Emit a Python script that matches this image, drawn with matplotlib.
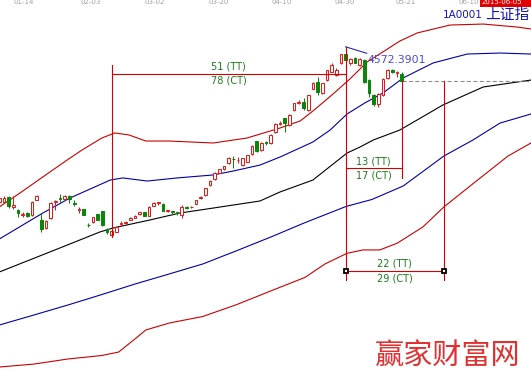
import matplotlib
matplotlib.use("Agg")
import matplotlib.pyplot as plt
from matplotlib.patches import Rectangle
from matplotlib.transforms import blended_transform_factory

# ---- daily bars, Shanghai Composite (bar 0 = 2015-01-06 ... bar 86 = 2015-05-15) ----
opens = [3322, 3317, 3363, 3280, 3255, 3215, 3229, 3215, 3336, 3175,
         3108, 3188, 3317, 3352, 3342, 3371, 3312, 3255, 3263, 3137,
         3161, 3221, 3247, 3102, 3050, 3080, 3146, 3148, 3175, 3193,
         3221, 3237, 3207, 3288, 3309, 3304, 3247, 3245, 3237, 3215,
         3280, 3276, 3304, 3350, 3376, 3457, 3503, 3556, 3584, 3632,
         3669, 3656, 3618, 3645, 3707, 3812, 3740, 3804, 3794, 3882,
         3949, 3995, 3941, 4062, 4116, 4129, 4062, 4232, 4288, 4197,
         4304, 4371, 4345, 4438, 4514, 4438, 4480, 4425, 4466, 4304,
         4183, 4111, 4183, 4320, 4389, 4357, 4353]
highs = [3364, 3368, 3368, 3372, 3263, 3237, 3239, 3328, 3376, 3229,
         3175, 3320, 3336, 3382, 3376, 3376, 3336, 3282, 3267, 3148,
         3201, 3227, 3251, 3112, 3094, 3126, 3167, 3167, 3199, 3215,
         3243, 3242, 3288, 3316, 3322, 3308, 3259, 3247, 3242, 3296,
         3288, 3288, 3340, 3368, 3435, 3497, 3562, 3590, 3614, 3679,
         3691, 3681, 3677, 3703, 3776, 3816, 3804, 3812, 3865, 3955,
         3971, 4000, 4026, 4121, 4141, 4157, 4187, 4291, 4331, 4283,
         4389, 4442, 4401, 4518, 4572.3901, 4482, 4486, 4478, 4470, 4312,
         4191, 4200, 4320, 4393, 4397, 4381, 4365]
lows = [3312, 3308, 3269, 3263, 3201, 3196, 3199, 3207, 3332, 3080,
        3102, 3183, 3255, 3322, 3336, 3309, 3290, 3229, 3211, 3121,
        3148, 3171, 3130, 3059, 3041, 3078, 3126, 3142, 3171, 3191,
        3217, 3207, 3203, 3284, 3296, 3247, 3243, 3215, 3215, 3191,
        3263, 3271, 3300, 3344, 3372, 3453, 3497, 3554, 3578, 3627,
        3592, 3632, 3610, 3643, 3703, 3727, 3735, 3780, 3790, 3879,
        3945, 3887, 3937, 4058, 4111, 4062, 4058, 4228, 4183, 4191,
        4300, 4369, 4337, 4434, 4296, 4429, 4438, 4417, 4284, 4167,
        4095, 4090, 4175, 4316, 4357, 4331, 4296]
closes = [3355, 3355, 3290, 3292, 3229, 3223, 3209, 3317, 3371, 3102,
          3167, 3309, 3330, 3347, 3368, 3344, 3306, 3261, 3215, 3132,
          3196, 3175, 3134, 3075, 3086, 3121, 3153, 3161, 3193, 3209,
          3237, 3209, 3282, 3309, 3316, 3250, 3255, 3239, 3231, 3282,
          3274, 3282, 3336, 3363, 3430, 3489, 3556, 3584, 3610, 3673,
          3664, 3661, 3673, 3699, 3772, 3731, 3798, 3798, 3861, 3949,
          3960, 3955, 4022, 4116, 4129, 4076, 4183, 4284, 4208, 4278,
          4385, 4425, 4385, 4514, 4462, 4470, 4442, 4470, 4288, 4199,
          4111, 4195, 4316, 4389, 4369, 4369, 4300]

# ---- channel lines (knots: bar index, level) ----
outer_up_x = [0, 4.4, 9.3, 14.5, 17.7, 21.9, 24.7, 27.7, 31.3, 36.3, 45.7, 52.9,
              60, 64.3, 67, 71.3, 74.9, 78.6, 85.6, 89.3, 96.3, 103.4, 110.6, 113.6]
outer_up_y = [3280, 3392, 3522, 3659, 3740, 3836, 3877, 3861, 3812, 3812, 3796, 3836,
              3917, 3974, 4054, 4191, 4312, 4450, 4619, 4684, 4748, 4756, 4732, 4716]

inner_up_x = [0, 9.3, 15.1, 23.7, 26.4, 31.6, 38, 45.7, 50, 55.7, 60, 67,
              70.7, 74.3, 78.1, 82, 86.3, 92.7, 100, 107, 113.6]
inner_up_y = [3021, 3231, 3352, 3497, 3514, 3489, 3514, 3538, 3570, 3618, 3683, 3804,
              3901, 4030, 4119, 4200, 4321, 4442, 4514, 4522, 4514]

center_x = [0, 11.9, 21.5, 24.3, 32.2, 38.6, 45.7, 52.9, 55.7, 60, 67, 74.3,
            77.1, 79.9, 85.6, 94.8, 103.4, 113.6]
center_y = [2755, 2933, 3078, 3110, 3175, 3231, 3271, 3312, 3328, 3401, 3497, 3715,
            3764, 3820, 3901, 4103, 4248, 4304]

inner_dn_x = [0, 7.4, 14.7, 21.9, 29, 36.3, 43.5, 50.8, 58, 65.3, 74.1, 79.6,
              86.3, 95, 101.2, 107, 113.6]
inner_dn_y = [2327, 2408, 2489, 2573, 2658, 2739, 2820, 2928, 3037, 3153, 3284, 3340,
              3449, 3691, 3820, 3957, 4030]

outer_dn_x = [0, 7.4, 14.7, 21.9, 25.5, 29.1, 31.3, 36.3, 43.5, 50.8, 58, 65.3,
              69.6, 74.3, 77.7, 81.3, 85, 90.5, 95, 101.4, 108.7, 113.6]
outer_dn_y = [1988, 2012, 2053, 2081, 2109, 2218, 2287, 2343, 2396, 2493, 2602, 2711,
              2820, 2906, 2933, 2933, 2987, 3118, 3280, 3473, 3691, 3796]

# ---- top date strip ----
date_labels = ["01-14", "02-03", "03-02", "03-20", "04-10", "04-30", "05-21", "06-10"]
date_pos = [5.3, 19.6, 33.3, 46.9, 60.4, 73.9, 86.9, 100.3]
cursor_date = "2015-06-05"

# ---- cycle measurement ----
low_bar, peak_bar, last_bar, proj_bar = 24, 74, 86, 95
span_texts = [("51 (TT)", "78 (CT)"), ("13 (TT)", "17 (CT)"), ("22 (TT)", "29 (CT)")]

UP = "#e01c1c"
DOWN = "#0c850c"
TOOL = "#d40000"
LABEL_GREEN = "#1b7b1b"

fig = plt.figure(figsize=(5.31, 3.81), dpi=100)
ax = fig.add_axes([0, 0, 1, 1])
ax.set_xlim(0.15, 113.61)
ax.set_ylim(1875.3, 4950)
ax.axis("off")

# channel lines
ax.plot(outer_up_x, outer_up_y, color="#c80000", lw=0.8, zorder=2)
ax.plot(outer_dn_x, outer_dn_y, color="#c80000", lw=0.8, zorder=2)
ax.plot(inner_up_x, inner_up_y, color="#0000a8", lw=0.8, zorder=2)
ax.plot(inner_dn_x, inner_dn_y, color="#0000a8", lw=0.8, zorder=2)
ax.plot(center_x, center_y, color="black", lw=0.8, zorder=2)

# candlesticks
bw = 0.58
for i, (o, h, l, c) in enumerate(zip(opens, highs, lows, closes)):
    col = UP if c >= o else DOWN
    ax.plot([i, i], [l, h], color=col, lw=0.75, zorder=4, solid_capstyle="butt")
    face = "white" if c >= o else DOWN
    ax.add_patch(Rectangle((i - bw / 2, min(o, c)), bw, max(abs(c - o), 1.0),
                           facecolor=face, edgecolor=col, lw=0.75, zorder=5))

# measurement tool
h1, v1_top = 4353, 4429
h2, v3_bottom = 3598, 3514
h3, v_bottom = 2763, 2690
last_close = closes[last_bar]
tool = dict(color=TOOL, lw=0.8, zorder=6)
ax.plot([low_bar, low_bar], [lows[low_bar], v1_top], **tool)
ax.plot([low_bar, peak_bar], [h1, h1], **tool)
ax.plot([peak_bar, peak_bar], [highs[peak_bar], v_bottom], **tool)
ax.plot([peak_bar, last_bar], [h2, h2], **tool)
ax.plot([last_bar, last_bar], [last_close, v3_bottom], **tool)
ax.plot([peak_bar, proj_bar], [h3, h3], **tool)
ax.plot([proj_bar, proj_bar], [last_close, v_bottom], **tool)
ax.plot([peak_bar, proj_bar], [h3, h3], ls="none", marker="s", ms=3.4,
        mfc="white", mec="black", mew=1.3, zorder=7)
ax.plot([last_bar, 113.61], [last_close, last_close], color="#8c8c8c",
        lw=0.8, ls=(0, (3.6, 2.2)), zorder=3)

span_pos = [((low_bar + peak_bar) / 2, 4413, 4299),
            ((peak_bar + last_bar) / 2, 3647, 3536),
            ((peak_bar + proj_bar) / 2, 2820, 2704)]
for (t1, t2), (xm, y1, y2) in zip(span_texts, span_pos):
    ax.text(xm, y1, t1, color=LABEL_GREEN, fontsize=7, ha="center", va="center", zorder=8)
    ax.text(xm, y2, t2, color=LABEL_GREEN, fontsize=7, ha="center", va="center", zorder=8)

# peak annotation
ax.plot([peak_bar, 78.5], [highs[peak_bar], 4520], color="#2828b0", lw=0.8, zorder=7)
ax.text(78.6, 4466, f"{highs[peak_bar]:.4f}", color="#4a4ad2", fontsize=7.8,
        ha="left", va="center", zorder=8)

# top date strip
tb = blended_transform_factory(ax.transData, ax.transAxes)
for lab, pos in zip(date_labels, date_pos):
    ax.text(pos, 1 - 4.8 / 381, lab, transform=tb, fontsize=5.0, color="#a0a0a0",
            ha="center", va="bottom")
ax.axhline(1 - 6 / 381, color="#b8b8b8", lw=0.8)
ax.add_patch(Rectangle((480 / 531, 1 - 6.5 / 381), 51 / 531, 6.5 / 381,
                       transform=ax.transAxes, facecolor="#e00000", edgecolor="none",
                       zorder=9, clip_on=False))
ax.text(482 / 531, 1 - 5.2 / 381, cursor_date, transform=ax.transAxes, fontsize=5.0,
        color="white", ha="left", va="bottom", zorder=10)

ax.text(443 / 531, 1 - 14.7 / 381, "1A0001", transform=ax.transAxes, fontsize=7.5,
        color="#1414b4", ha="left", va="center")
ax.text(485 / 531, 1 - 14.7 / 381, "上证指", transform=ax.transAxes, fontsize=10.6,
        color="#1414b4", ha="left", va="center",
        family=["Noto Sans CJK SC", "DejaVu Sans"])

# watermark
ax.text(375 / 531, 1 - 355.5 / 381, "赢家财富网", transform=ax.transAxes, fontsize=21,
        color="#e03030", ha="left", va="center",
        family=["Noto Sans CJK SC", "DejaVu Sans"])

fig.savefig("out.png", dpi=100, facecolor="white")
